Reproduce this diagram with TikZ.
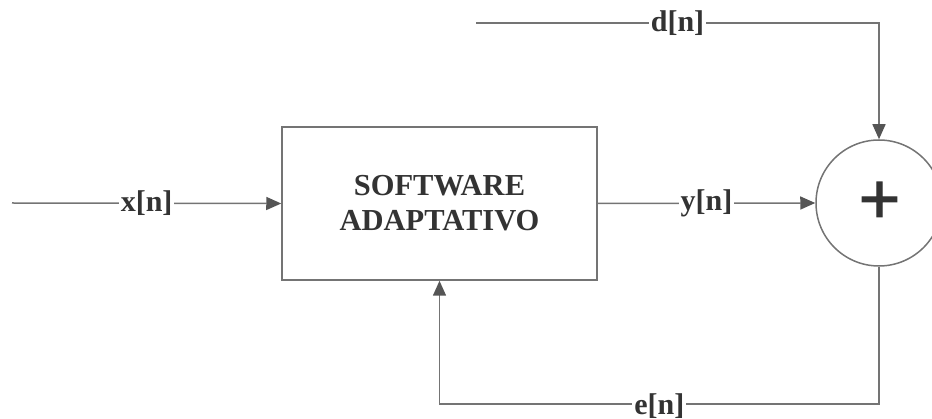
\documentclass[tikz,border=0pt]{standalone}
\usepackage{fontspec}
\setmainfont{Liberation Serif}
\newfontfamily\plusfont[FakeBold=1.6]{Liberation Sans}
\usetikzlibrary{arrows.meta}
\definecolor{ln}{HTML}{747474}
\definecolor{tx}{HTML}{333333}
\definecolor{ah}{HTML}{555555}
\begin{document}
\begin{tikzpicture}[x=1pt,y=-1pt,
  conn/.style={draw=ln,line width=1.5pt},
  arr/.style={conn,-{Triangle[length=15pt,width=13pt,color=ah]}},
  lbl/.style={fill=white,text=tx,font=\fontsize{30}{30}\selectfont\bfseries,inner sep=2pt},
  block/.style={draw=ln,line width=1.5pt,minimum width=315pt,minimum height=153pt,inner sep=0pt,align=center,text=tx,font=\fontsize{30.5}{35}\selectfont\bfseries},
  sumnode/.style={circle,draw=ln,line width=1.5pt,minimum size=126pt,inner sep=0pt}
]
\useasboundingbox (0,0) rectangle (932,419);
\node[block] (sw) at (439.5,203.5) {SOFTWARE\\ADAPTATIVO};
\node[sumnode] (sum) at (879,203) {};
\node[text=tx,inner sep=0pt,font=\fontsize{71}{71}\plusfont] (plus) at (879.5,202.5) {+};
\coordinate (xin) at (12,203);
\coordinate (din) at (476,23);
\coordinate (dc) at (879,23);
\coordinate (ec) at (879,404);
\coordinate (eb) at (439.5,404);
\draw[arr] (xin) -- node[lbl] {x[n]} (sw.west);
\draw[arr] (sw.east) -- node[lbl] {y[n]} (sum.west);
\draw[arr] (din) -- node[lbl] {d[n]} (dc) -- (sum.north);
\draw[arr] (sum.south) -- (ec) -- node[lbl,yshift=-2pt] {e[n]} (eb) -- (sw.south);
\end{tikzpicture}
\end{document}
